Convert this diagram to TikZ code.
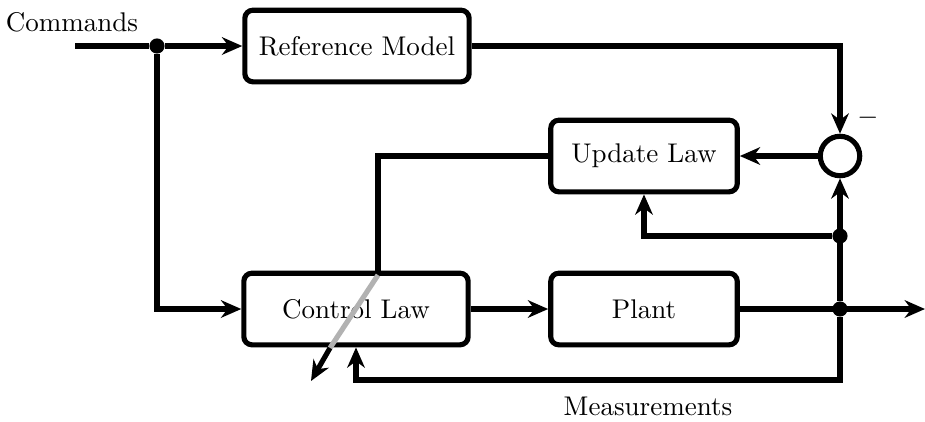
\documentclass[tikz,border=0pt]{standalone}
\usetikzlibrary{arrows.meta}
\begin{document}
\begin{tikzpicture}[x=0.37pt,y=-0.37pt,
  blk/.style={draw,line width=1.9pt,rounded corners=3pt,minimum width=#1,minimum height=26.5pt,inner sep=0pt},
  wire/.style={line width=1.9pt},
  arr/.style={wire,-{Stealth[length=7.5pt,width=6.5pt,inset=2.4pt]}},
  dot/.style={circle,fill,inner sep=0pt,minimum size=5.6pt},
  sumc/.style={circle,draw,line width=1.9pt,minimum size=14.6pt,inner sep=0pt}]
\useasboundingbox (0,0) rectangle (925,421);
\node[blk=83pt] (ref) at (357,46) {Reference Model};
\node[blk=69pt] (upd) at (644,156) {Update Law};
\node[blk=83pt] (ctl) at (356,309) {Control Law};
\node[blk=69pt] (plant) at (644,309) {Plant};
\node[sumc] (sum) at (840,156) {};
\node (cmd) at (72,22) {Commands};
\node (minus) at (868,118) {$-$};
\node (meas) at (648,406) {Measurements};
\coordinate (in) at (75,46);
\node[dot] (j1) at (157,46) {};
\node[dot] (j2) at (840,236) {};
\node[dot] (j3) at (840,309) {};
\coordinate (out) at (925,309);
\coordinate (m1) at (840,380);
\coordinate (gtop) at (378,275);
\coordinate (gbot) at (330,348);
\coordinate (gend) at (311,381);
\draw[wire] (in) -- (j1);
\draw[arr] (j1) -- (ref.west);
\draw[arr] (j1) |- (ctl.west);
\draw[arr] (ref.east) -| (sum.north);
\draw[arr] (sum.west) -- (upd.east);
\draw[arr] (ctl.east) -- (plant.west);
\draw[arr] (plant.east) -- (out);
\draw[arr] (j3) -- (sum.south);
\draw[arr] (j2) -| (upd.south);
\draw[arr] (j3) -- (m1) -| (ctl.south);
\draw[wire] (upd.west) -| (gtop);
\draw[line width=1.9pt,black!30] (gtop) -- (gbot);
\draw[arr] (gbot) -- (gend);
\end{tikzpicture}
\end{document}
